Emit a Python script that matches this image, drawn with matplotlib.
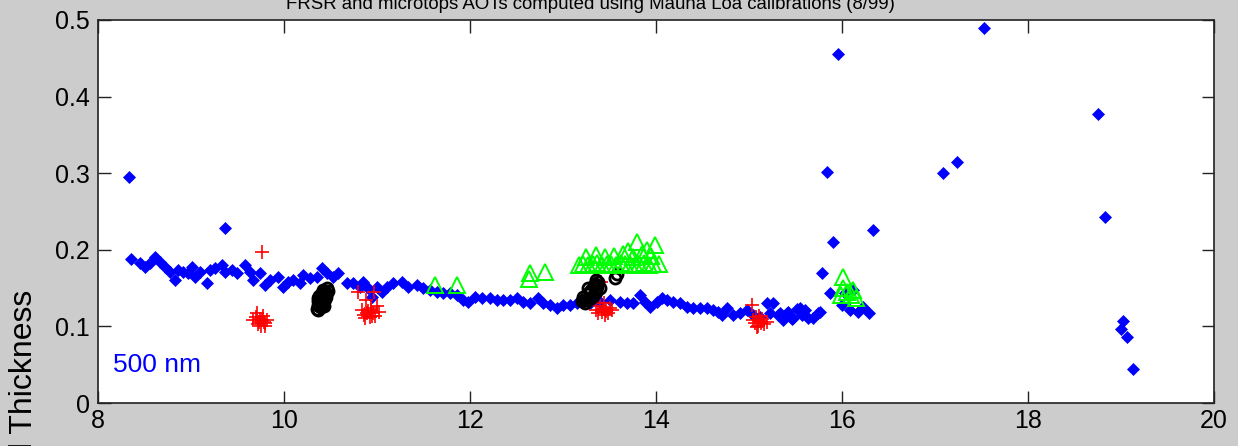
import numpy as np
import matplotlib.pyplot as plt

plt.rcParams['font.family'] = ['Liberation Sans', 'DejaVu Sans']

# FRSR aerosol optical thickness at 500 nm (hour, AOT)
frsr_t = [8.33, 8.355, 8.45, 8.51, 8.56, 8.61, 8.67, 8.72, 8.77, 8.83, 8.86, 8.91, 8.97,
          9.01, 9.04, 9.10, 9.17, 9.20, 9.26, 9.33, 9.37, 9.37, 9.44, 9.49, 9.58, 9.63,
          9.67, 9.74, 9.80, 9.85, 9.94, 9.99, 10.04, 10.10, 10.17, 10.20, 10.28, 10.35,
          10.41, 10.46, 10.53, 10.58, 10.68, 10.74, 10.82, 10.85, 10.90, 10.95, 11.00,
          11.05, 11.11, 11.17, 11.27, 11.33, 11.43, 11.49, 11.57, 11.65, 11.71, 11.78,
          11.86, 11.92, 11.98, 12.05, 12.13, 12.22, 12.29, 12.35, 12.43, 12.51, 12.57,
          12.65, 12.73, 12.78, 12.86, 12.94, 13.00, 13.08, 13.15, 13.22, 13.29, 13.37,
          13.40, 13.51, 13.61, 13.69, 13.75, 13.83, 13.88, 13.94, 14.01, 14.06, 14.12,
          14.18, 14.26, 14.33, 14.40, 14.47, 14.55, 14.61, 14.67, 14.71, 14.76, 14.83,
          14.90, 14.98, 15.04, 15.12, 15.19, 15.23, 15.26, 15.31, 15.33, 15.37, 15.41,
          15.42, 15.46, 15.47, 15.52, 15.55, 15.57, 15.60, 15.63, 15.69, 15.74, 15.76,
          15.78, 15.84, 15.87, 15.90, 15.96, 16.00, 16.03, 16.09, 16.12, 16.17, 16.23,
          16.29, 16.33, 17.09, 17.24, 17.53, 18.75, 18.83, 19.00, 19.02, 19.06, 19.13]
frsr_aot = [0.295, 0.188, 0.183, 0.178, 0.183, 0.190, 0.184, 0.178, 0.171, 0.161, 0.174,
            0.171, 0.170, 0.178, 0.164, 0.171, 0.157, 0.174, 0.176, 0.180, 0.228, 0.171,
            0.174, 0.170, 0.180, 0.171, 0.161, 0.170, 0.154, 0.161, 0.164, 0.151, 0.158,
            0.161, 0.157, 0.167, 0.163, 0.164, 0.176, 0.170, 0.164, 0.170, 0.157, 0.157,
            0.151, 0.158, 0.150, 0.138, 0.151, 0.145, 0.151, 0.157, 0.158, 0.151, 0.154,
            0.150, 0.148, 0.145, 0.144, 0.144, 0.141, 0.134, 0.132, 0.138, 0.137, 0.137,
            0.134, 0.134, 0.134, 0.137, 0.132, 0.131, 0.137, 0.131, 0.128, 0.124, 0.128,
            0.128, 0.131, 0.134, 0.131, 0.134, 0.132, 0.134, 0.132, 0.131, 0.131, 0.141,
            0.132, 0.125, 0.132, 0.137, 0.134, 0.132, 0.131, 0.125, 0.124, 0.124, 0.124,
            0.121, 0.119, 0.115, 0.124, 0.115, 0.117, 0.121, 0.115, 0.112, 0.131, 0.117,
            0.131, 0.115, 0.117, 0.108, 0.117, 0.119, 0.110, 0.111, 0.123, 0.124, 0.115,
            0.121, 0.111, 0.111, 0.117, 0.119, 0.170, 0.301, 0.144, 0.210, 0.456, 0.128,
            0.144, 0.121, 0.148, 0.119, 0.125, 0.117, 0.226, 0.300, 0.315, 0.490, 0.377,
            0.243, 0.097, 0.107, 0.086, 0.044]

# microtops, first instrument (red +)
mt1_t = [9.67, 9.70, 9.72, 9.74, 9.75, 9.77, 9.78, 9.80, 9.82, 9.71, 9.76, 9.79, 9.73, 9.76,
         10.80, 10.84, 10.86, 10.88, 10.90, 10.92, 10.94, 10.96, 10.98, 11.00, 11.02, 10.87,
         10.93, 10.97, 10.89, 10.95,
         13.35, 13.38, 13.40, 13.42, 13.44, 13.46, 13.48, 13.50, 13.53, 13.41, 13.45, 13.43,
         15.04, 15.06, 15.08, 15.10, 15.12, 15.14, 15.16, 15.19, 15.09, 15.13, 15.11, 15.03]
mt1_aot = [0.108, 0.112, 0.103, 0.110, 0.100, 0.114, 0.106, 0.104, 0.108, 0.117, 0.108,
           0.101, 0.106, 0.197,
           0.145, 0.122, 0.115, 0.135, 0.120, 0.112, 0.124, 0.117, 0.113, 0.126, 0.119,
           0.111, 0.121, 0.145, 0.118, 0.114,
           0.122, 0.117, 0.126, 0.119, 0.131, 0.120, 0.118, 0.124, 0.121, 0.158, 0.115,
           0.123,
           0.108, 0.104, 0.112, 0.101, 0.107, 0.110, 0.103, 0.106, 0.099, 0.105, 0.114,
           0.128]

# microtops, second instrument (black o)
mt2_t = [10.35, 10.36, 10.37, 10.38, 10.39, 10.40, 10.41, 10.42, 10.43, 10.44, 10.45, 10.46,
         10.47, 10.38, 10.40, 10.42, 10.44, 10.41, 10.36, 10.39, 10.43, 10.37, 10.45, 10.40,
         10.42, 10.38,
         13.20, 13.22, 13.24, 13.26, 13.28, 13.30, 13.32, 13.34, 13.36, 13.38, 13.40, 13.27,
         13.31, 13.35, 13.29, 13.33, 13.25, 13.37, 13.56, 13.58]
mt2_aot = [0.123, 0.128, 0.121, 0.132, 0.126, 0.136, 0.129, 0.140, 0.133, 0.145, 0.138,
           0.150, 0.146, 0.140, 0.125, 0.131, 0.136, 0.144, 0.133, 0.130, 0.127, 0.137,
           0.142, 0.139, 0.148, 0.126,
           0.133, 0.138, 0.131, 0.142, 0.136, 0.148, 0.140, 0.155, 0.145, 0.158, 0.150,
           0.150, 0.138, 0.160, 0.145, 0.153, 0.135, 0.151, 0.163, 0.168]

# microtops, third instrument (green triangles)
mt3_t = [11.62, 11.86, 12.63, 12.65, 12.81,
         13.17, 13.22, 13.27, 13.32, 13.37, 13.42, 13.47, 13.52, 13.57, 13.62, 13.67, 13.72,
         13.77, 13.82, 13.87, 13.92, 13.97, 14.03, 13.25, 13.35, 13.45, 13.55, 13.65, 13.75,
         13.85, 13.95, 13.80, 13.99, 13.70, 13.90,
         16.01, 16.01, 15.99, 16.12, 16.15, 16.05, 16.10]
mt3_aot = [0.154, 0.154, 0.162, 0.170, 0.171,
           0.180, 0.182, 0.180, 0.181, 0.183, 0.180, 0.182, 0.181, 0.180, 0.183, 0.181, 0.182,
           0.180, 0.181, 0.183, 0.180, 0.182, 0.181, 0.191, 0.193, 0.190, 0.192, 0.195, 0.191,
           0.194, 0.192, 0.210, 0.206, 0.198, 0.200,
           0.165, 0.150, 0.141, 0.148, 0.137, 0.145, 0.141]

fig = plt.figure(figsize=(12.38, 4.46), dpi=100, facecolor='#cccccc')
ax = fig.add_axes([0.0792, 0.0964, 0.9014, 0.8588])

ax.plot(frsr_t, frsr_aot, 'D', color='blue', ms=6, mew=0.5, ls='none')
ax.plot(mt1_t, mt1_aot, '+', color='red', ms=10, mew=1.2, ls='none')
ax.plot(mt2_t, mt2_aot, 'o', color='black', mfc='none', ms=8, mew=2.0, ls='none')
ax.plot(mt3_t, mt3_aot, '^', color='#00ff00', mfc='none', ms=11, mew=1.4, ls='none')

ax.set_xlim(8, 20)
ax.set_ylim(0, 0.5)
ax.set_xticks(np.arange(8, 21, 2))
ax.set_yticks(np.arange(0, 0.51, 0.1))
ax.set_yticklabels(['0', '0.1', '0.2', '0.3', '0.4', '0.5'])
ax.tick_params(direction='in', length=9, width=1, labelsize=18, top=True, right=True,
               colors='#222222', labelcolor='black')
ax.tick_params(axis='x', pad=4)
ax.tick_params(axis='y', pad=6)
for s in ax.spines.values():
    s.set_linewidth(1.2)
    s.set_color('#222222')

ax.text(8.16, 0.05, '500 nm', color='blue', fontsize=19, va='center')

fig.text(590 / 1238, 1 - 9 / 446, 'FRSR and microtops AOTs computed using Mauna Loa calibrations (8/99)',
         ha='center', va='baseline', fontsize=13.4)
fig.text(24 / 1238, 1 - 290 / 446, 'Aerosol Optical Thickness', rotation=90,
         ha='center', va='top', fontsize=23)

fig.savefig('out.png', dpi=100, facecolor=fig.get_facecolor())
